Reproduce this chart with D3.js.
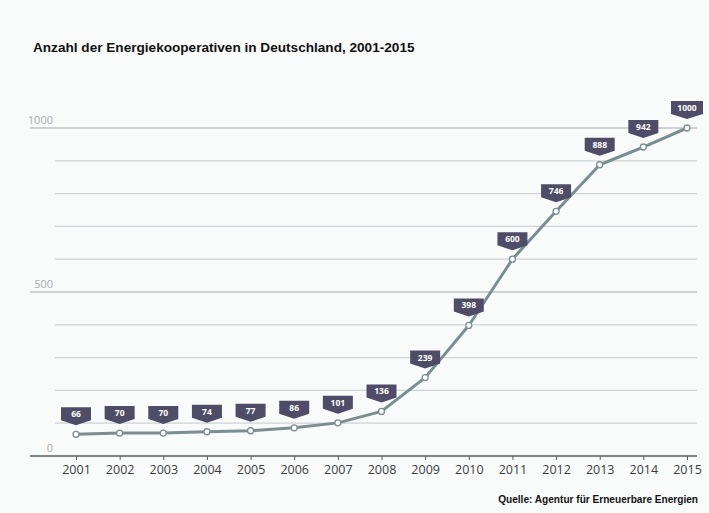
<!DOCTYPE html>
<html>
<head>
<meta charset="utf-8">
<script src="https://cdn.jsdelivr.net/npm/d3@7"></script>
<style>
  html, body { margin: 0; padding: 0; background: #f9fbfb; }
  svg { display: block; }
</style>
</head>
<body>
<script>
const years = [2001, 2002, 2003, 2004, 2005, 2006, 2007, 2008, 2009, 2010, 2011, 2012, 2013, 2014, 2015];
const counts = [66, 70, 70, 74, 77, 86, 101, 136, 239, 398, 600, 746, 888, 942, 1000];
const yLabels = [0, 500, 1000];

const W = 709, H = 513;

const svg = d3.select("body").append("svg").attr("width", W).attr("height", H);

const x = d3.scaleLinear().domain([2001, 2015]).range([76, 687]);
const y = d3.scaleLinear().domain([0, 1000]).range([456, 128]);

// title
svg.append("text")
  .attr("x", 33).attr("y", 52)
  .attr("font-family", "Liberation Sans, Arial, sans-serif")
  .attr("font-weight", "bold").attr("font-size", 13.6)
  .attr("fill", "#111")
  .text("Anzahl der Energiekooperativen in Deutschland, 2001-2015");

// gridlines
const grid = svg.append("g");
grid.selectAll("line")
  .data(y.ticks(10).filter((d) => d > 0))
  .join("line")
  .attr("x1", (d) => (yLabels.includes(d) ? 30 : 55))
  .attr("x2", 697)
  .attr("y1", (d) => y(d)).attr("y2", (d) => y(d))
  .attr("stroke", (d) => (yLabels.includes(d) ? "#a4a9ac" : "#cfd3d5"))
  .attr("stroke-width", 1.2);

// y labels
svg.append("g")
  .attr("font-family", "Open Sans, sans-serif")
  .attr("font-size", 11)
  .attr("fill", "#a6acb2")
  .attr("text-anchor", "end")
  .selectAll("text")
  .data(yLabels)
  .join("text")
  .attr("x", 53)
  .attr("y", (d) => y(d) - 4)
  .text((d) => d);

// x axis
const xAxis = svg.append("g")
  .attr("transform", `translate(0,${y(0)})`)
  .call(d3.axisBottom(x).tickValues(years).tickFormat(d3.format("d")).tickSize(4).tickPadding(5));
xAxis.select(".domain").remove();
xAxis.insert("line", ":first-child")
  .attr("x1", 30).attr("x2", 697)
  .attr("stroke", "#5a5e62").attr("stroke-width", 1.6);
xAxis.selectAll(".tick line").attr("stroke", "#5a5e62");
xAxis.selectAll(".tick text")
  .attr("font-family", "Open Sans, sans-serif")
  .attr("font-size", 12.5)
  .attr("fill", "#3a3d40");

// line
svg.append("path")
  .datum(counts)
  .attr("fill", "none")
  .attr("stroke", "#7a8e91")
  .attr("stroke-width", 3)
  .attr("stroke-linejoin", "round")
  .attr("d", d3.line().x((d, i) => x(years[i])).y((d) => y(d)));

// points
svg.append("g")
  .selectAll("circle")
  .data(counts)
  .join("circle")
  .attr("cx", (d, i) => x(years[i]))
  .attr("cy", (d) => y(d))
  .attr("r", 3)
  .attr("fill", "#fff")
  .attr("stroke", "#7a8e91")
  .attr("stroke-width", 1.3);

// value flags
const flags = svg.append("g")
  .selectAll("g")
  .data(counts)
  .join("g")
  .attr("transform", (d, i) => `translate(${x(years[i])},${y(d)})`);

flags.append("path")
  .attr("d", (d) => {
    const w = d >= 1000 ? 16 : 15;
    return `M${-w},-27 H${w} V-14 L0,-9 L${-w},-14 Z`;
  })
  .attr("fill", "#4f4c68");

flags.append("text")
  .attr("y", -17)
  .attr("text-anchor", "middle")
  .attr("font-family", "Open Sans, sans-serif")
  .attr("font-weight", "bold")
  .attr("font-size", 8.5)
  .attr("fill", "#fff")
  .text((d) => d);

// source
svg.append("text")
  .attr("x", 698).attr("y", 503)
  .attr("text-anchor", "end")
  .attr("font-family", "Liberation Sans, Arial, sans-serif")
  .attr("font-weight", "bold").attr("font-size", 10.1)
  .attr("fill", "#111")
  .text("Quelle: Agentur für Erneuerbare Energien");
</script>
</body>
</html>
